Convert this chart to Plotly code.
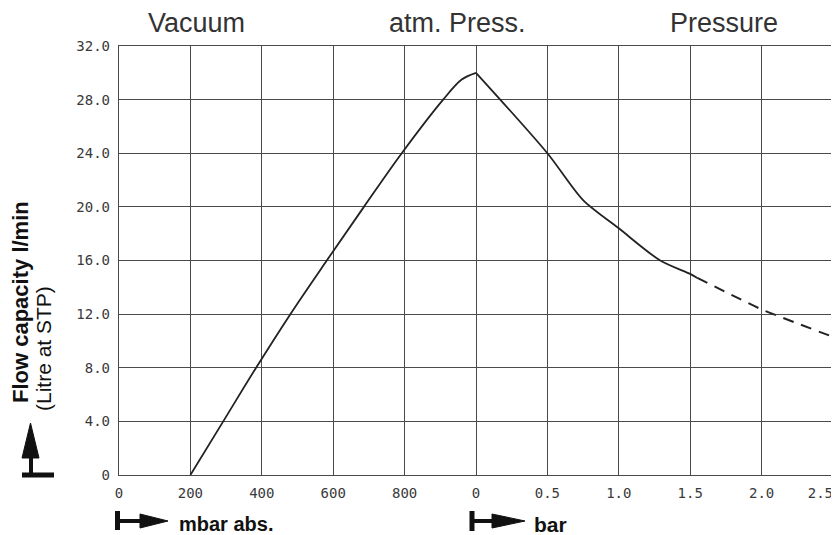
import plotly.graph_objects as go

# ---- data (x index: 0..4 = 0..800 mbar abs., 5..10 = 0..2.5 bar) ----
tick_pos = [0, 1, 2, 3, 4, 5, 6, 7, 8, 9, 10]
tick_labels = ["0", "200", "400", "600", "800", "0", "0.5", "1.0", "1.5", "2.0",
               "2.5<span style='color:rgba(255,255,255,0)'>000</span>"]
y_ticks = [0, 4, 8, 12, 16, 20, 24, 28, 32]
y_labels = ["0", "4.0", "8.0", "12.0", "16.0", "20.0", "24.0", "28.0", "32.0"]

vac_x = [1.0, 1.46, 1.92, 2.4, 2.91, 3.43, 3.96, 4.54, 4.8, 5.0]
vac_y = [0.0, 4.0, 8.0, 12.0, 16.0, 20.0, 24.0, 28.0, 29.5, 30.0]

pre_x = [5.0, 6.0, 6.5, 7.0, 7.58, 8.0, 8.1]
pre_y = [30.0, 24.0, 20.5, 18.4, 16.0, 15.0, 14.7]

ext_x = [8.1, 9.0, 10.0]
ext_y = [14.7, 12.35, 10.3]

# ---- layout geometry (screen pixels; page body has an 8px margin) ----
VW, VH = 839, 535
OFF = 8
L, R, T, B = 119, 833, 46, 475
W, H = VW - OFF, VH - OFF


def px(x):
    return (x - L) / (R - L)


def py(y):
    return (B - y) / (B - T)


fig = go.Figure()
line_col = "#222222"
fig.add_trace(go.Scatter(x=vac_x, y=vac_y, mode="lines",
                         line=dict(color=line_col, width=1.8, shape="spline", smoothing=1.0),
                         hoverinfo="skip", showlegend=False))
fig.add_trace(go.Scatter(x=pre_x, y=pre_y, mode="lines",
                         line=dict(color=line_col, width=1.8, shape="spline", smoothing=0.8),
                         hoverinfo="skip", showlegend=False))
fig.add_trace(go.Scatter(x=ext_x, y=ext_y, mode="lines",
                         line=dict(color=line_col, width=2, dash="11px,8px", shape="spline", smoothing=0.4),
                         hoverinfo="skip", showlegend=False))

grid_col = "#4a4a4a"
tick_font = dict(family="DejaVu Sans Mono", size=14, color="#3a3a3a")

fig.update_xaxes(range=[0, 10], tickvals=tick_pos, ticktext=tick_labels,
                 showgrid=True, gridcolor=grid_col, gridwidth=1.2,
                 showline=True, linecolor=grid_col, linewidth=1.4, mirror=True,
                 zeroline=False, ticks="", tickfont=tick_font, ticklabelstandoff=5,
                 ticklabeloverflow="allow", automargin=False, fixedrange=True)
fig.update_yaxes(range=[0, 32], tickvals=y_ticks, ticktext=y_labels,
                 showgrid=True, gridcolor=grid_col, gridwidth=1.2,
                 showline=True, linecolor=grid_col, linewidth=1.4, mirror=True,
                 zeroline=False, ticks="", tickfont=tick_font, ticklabelstandoff=5,
                 automargin=False, fixedrange=True)

head_font = dict(family="Liberation Sans", size=27, color="#333333")
annos = [
    dict(text="Vacuum", x=px(196.5), y=py(23.5), font=head_font),
    dict(text="atm. Press.", x=px(457), y=py(23.5), font=head_font),
    dict(text="Pressure", x=px(724), y=py(23.5), font=head_font),
    dict(text="<b>Flow capacity l/min</b>", x=px(20), y=py(302), textangle=-90,
         font=dict(family="Liberation Sans", size=22, color="#111111")),
    dict(text="(Litre at STP)", x=px(43), y=py(349), textangle=-90,
         font=dict(family="Liberation Sans", size=21, color="#111111")),
    dict(text="<b>mbar abs.</b>", x=px(177), y=py(524), xanchor="left",
         font=dict(family="Liberation Sans", size=20, color="#111111")),
    dict(text="<b>bar</b>", x=px(532), y=py(524), xanchor="left",
         font=dict(family="Liberation Sans", size=21, color="#111111")),
]
for a in annos:
    a.setdefault("xanchor", "center")
    a.update(xref="paper", yref="paper", yanchor="middle", showarrow=False)
fig.update_layout(annotations=annos)

shapes = []
ac = "#111111"


def seg(x0, y0, x1, y1, w):
    shapes.append(dict(type="line", xref="paper", yref="paper",
                       x0=px(x0), y0=py(y0), x1=px(x1), y1=py(y1),
                       line=dict(color=ac, width=w)))


def tri(pts):
    d = "M " + " L ".join(f"{px(a)},{py(b)}" for a, b in pts) + " Z"
    shapes.append(dict(type="path", xref="paper", yref="paper", path=d,
                       fillcolor=ac, line=dict(color=ac, width=1)))


# vertical (y-axis) arrow
seg(31, 475, 31, 452, 4)
seg(22, 475, 54, 475, 5)
tri([(30.5, 423), (22, 458), (39, 458)])

# mbar arrow
seg(117.5, 511, 117.5, 530, 5)
seg(117, 521, 145, 521, 4)
tri([(140, 514), (168, 521), (140, 528)])

# bar arrow
seg(472, 511, 472, 531, 5)
seg(472, 521, 497, 521, 4)
tri([(492, 514), (525, 521), (492, 528)])

fig.update_layout(shapes=shapes,
                  width=W, height=H,
                  margin=dict(l=L - OFF, r=VW - R, t=T - OFF, b=H - (B - OFF), autoexpand=False),
                  paper_bgcolor="white", plot_bgcolor="white",
                  showlegend=False)

fig.write_html("out.html")
